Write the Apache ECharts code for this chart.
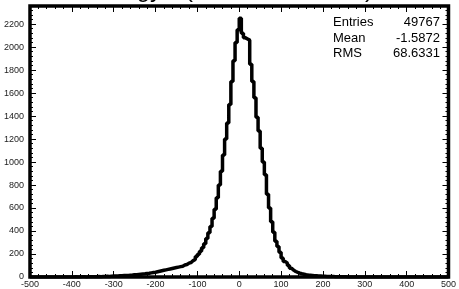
<!DOCTYPE html>
<html>
<head>
<meta charset="utf-8">
<script src="https://cdn.jsdelivr.net/npm/echarts@6/dist/echarts.min.js"></script>
<style>
  html, body { margin: 0; padding: 0; background: #fff; }
  #main { width: 459px; height: 289px; }
</style>
</head>
<body>
<div id="main"></div>
<script>
// histogram: 200 bins of width 5 from -500 to 500
var binStart = -500;
var binWidth = 5;
var counts = [
  // -500 .. -355
  0, 0, 0, 0, 0, 1, 0, 0, 1, 0, 0, 1, 0, 1, 1, 0, 1, 1, 0, 1,
  1, 2, 1, 1, 2, 2, 1, 2, 2, 3,
  // -350 .. -5
  3, 2, 4, 3, 5, 4, 6, 5, 7, 8,
  8, 9, 10, 11, 12, 13, 14, 16, 17, 19,
  20, 22, 24, 26, 28, 31, 33, 36, 39, 42,
  46, 50, 54, 58, 62, 66, 70, 74, 78, 82,
  86, 90, 94, 104, 108, 121, 126, 143, 152, 178,
  197, 225, 255, 290, 335, 385, 440, 510, 590, 690,
  800, 920, 1060, 1200, 1340, 1500, 1700, 1880, 2040, 2150,
  // 0 .. 495
  2250, 2120, 2080, 2070, 2060, 1850, 1700, 1560, 1390, 1270,
  1120, 1000, 890, 720, 600, 480, 390, 310, 265, 215,
  165, 135, 120, 100, 76, 60, 48, 40, 33, 28,
  24, 20, 17, 15, 13, 11, 10, 9, 8, 7,
  6, 5, 5, 4, 4, 3, 3, 3, 2, 2,
  2, 1, 1, 1, 0, 1, 0, 0, 1, 0,
  0, 0, 0, 0, 0, 0, 0, 0, 0, 0,
  0, 0, 0, 0, 0, 0, 0, 0, 0, 0,
  0, 0, 0, 0, 0, 0, 0, 0, 0, 0,
  0, 0, 0, 0, 0, 0, 0, 0, 0, 0
];
var statNames = ["Entries", "Mean", "RMS"];
var statValues = ["49767", "-1.5872", "68.6331"];

var xMin = -500, xMax = 500, xStep = 100;
var yMin = 0, yMax = 2357, yStep = 200;

// step line from bin lower edges
var histData = [];
for (var i = 0; i < counts.length; i++) {
  histData.push([binStart + i * binWidth, counts[i]]);
}
histData.push([binStart + counts.length * binWidth, counts[counts.length - 1]]);

var font = "Liberation Sans, Arial, sans-serif";

var tickStyle = {
  axisLine: { show: false, onZero: false },
  axisTick: { show: true, inside: true, length: 6, lineStyle: { color: "#000", width: 1 } },
  minorTick: { show: true, splitNumber: 5, length: 3, lineStyle: { color: "#000", width: 1 } },
  splitLine: { show: false }
};

function plain(v) { return String(v); }

var statGraphics = [];
for (var k = 0; k < statNames.length; k++) {
  statGraphics.push({
    type: "text", left: 333, top: 16 + k * 15.5,
    style: { text: statNames[k], font: "13px " + font, fill: "#000" }
  });
  statGraphics.push({
    type: "text", right: 19, top: 16 + k * 15.5,
    style: { text: statValues[k], font: "13px " + font, fill: "#000", textAlign: "right" }
  });
}

var titleGraphics = [
  { type: "text", left: 86, top: -22, style: { text: "Energy", font: "24px " + font, fill: "#000" } },
  { type: "text", left: 185, top: -22, style: { text: "(", font: "24px " + font, fill: "#000" } },
  { type: "text", left: 365, top: -22, style: { text: ")", font: "24px " + font, fill: "#000" } }
];

var chart = echarts.init(document.getElementById("main"), null, { renderer: "canvas" });
chart.setOption({
  animation: false,
  backgroundColor: "#fff",
  grid: {
    left: 30, right: 5, top: 6, bottom: 12,
    show: true, borderColor: "#000", borderWidth: 3.5, backgroundColor: "transparent"
  },
  xAxis: [
    Object.assign({
      type: "value", min: xMin, max: xMax, interval: xStep, position: "bottom",
      axisLabel: { fontSize: 9, fontFamily: font, color: "#222", margin: 3, formatter: plain }
    }, tickStyle),
    Object.assign({
      type: "value", min: xMin, max: xMax, interval: xStep, position: "top",
      axisLabel: { show: false }
    }, tickStyle)
  ],
  yAxis: [
    Object.assign({
      type: "value", min: yMin, max: yMax, interval: yStep, position: "left",
      axisLabel: { fontSize: 9, fontFamily: font, color: "#222", margin: 6, showMaxLabel: false, formatter: plain }
    }, tickStyle),
    Object.assign({
      type: "value", min: yMin, max: yMax, interval: yStep, position: "right",
      axisLabel: { show: false }
    }, tickStyle)
  ],
  series: [{
    type: "line",
    step: "end",
    data: histData,
    xAxisIndex: 0,
    yAxisIndex: 0,
    symbol: "none",
    clip: true,
    lineStyle: { color: "#000", width: 3.5 }
  }],
  graphic: titleGraphics.concat(statGraphics)
});
</script>
</body>
</html>
